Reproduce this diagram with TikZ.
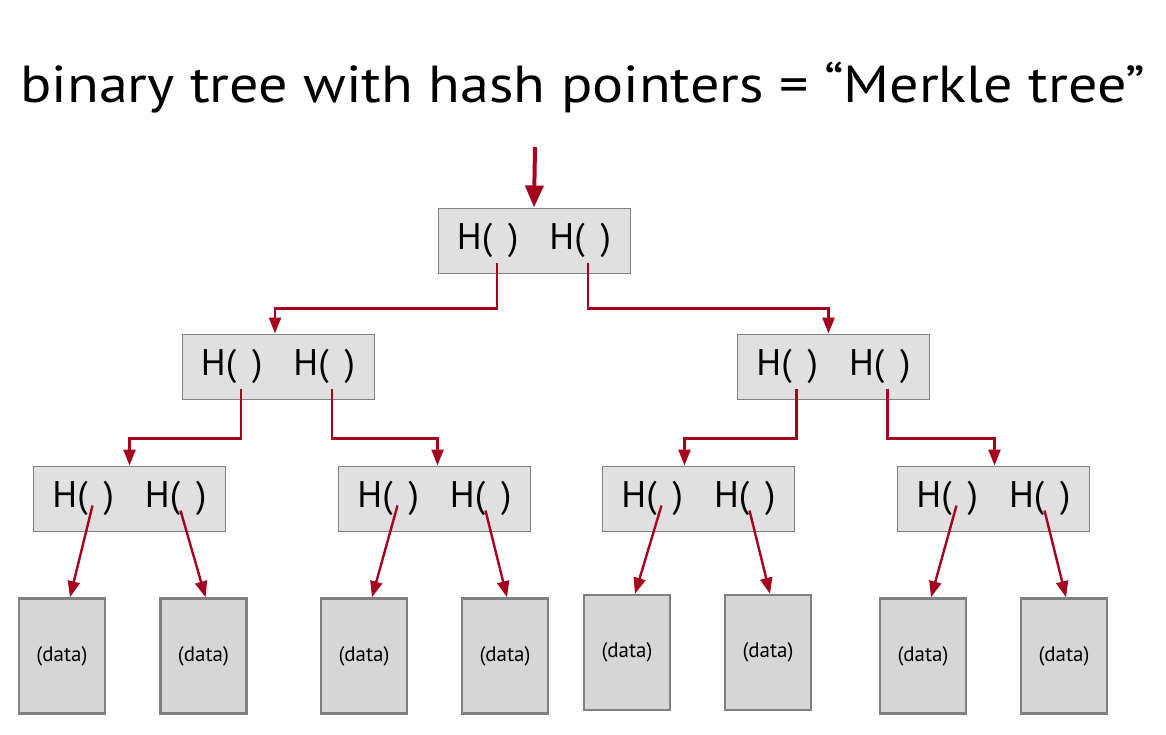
\documentclass[tikz,border=0pt]{standalone}
\usepackage{fontspec}
\setmainfont{PT Sans}
\usetikzlibrary{arrows.meta, calc}
\definecolor{ptrRed}{RGB}{165, 0, 30}
\definecolor{hashGray}{RGB}{224, 224, 224}
\definecolor{dataGray}{RGB}{214, 214, 214}
\definecolor{edgeGray}{RGB}{128, 128, 128}
\newcommand{\hpair}{H(\hspace{16pt})\hspace{31pt}H(\hspace{16pt})\hspace{9pt}}

\begin{document}
\begin{tikzpicture}[
        x=1pt, y=-1pt,
        hsh/.style={rectangle, draw=edgeGray, line width=1pt, fill=hashGray, minimum width=192pt,
            minimum height=65pt, inner sep=0pt, font=\fontsize{37}{44}\selectfont},
        dat/.style={rectangle, draw=edgeGray, line width=2.5pt, fill=dataGray, minimum width=86pt,
            minimum height=115pt, inner sep=0pt, font=\fontsize{21}{25}\selectfont},
        ptr/.style={-{Triangle[length=16pt, width=12pt]}, line width=2.4pt, ptrRed}
    ]
    \useasboundingbox (0,0) rectangle (1166,734);
    \node[anchor=base, font=\fontsize{52}{60}\selectfont] (title) at (583,102)
        {\scalebox{1.117}[1]{binary tree with hash pointers = “Merkle tree”}};

    % hash nodes
    \node[hsh] (h1)  at (534,240.5)   {\hpair};
    \node[hsh] (h2a) at (278,366.5)   {\hpair};
    \node[hsh] (h2b) at (833.5,366.5) {\hpair};
    \node[hsh] (h3a) at (129.5,498.5) {\hpair};
    \node[hsh] (h3b) at (434.5,498.5) {\hpair};
    \node[hsh] (h3c) at (698.5,498.5) {\hpair};
    \node[hsh] (h3d) at (993.5,498.5) {\hpair};

    % data blocks
    \node[dat] (d1) at (62,656)    {(data)};
    \node[dat] (d2) at (203.5,656) {(data)};
    \node[dat] (d3) at (364,656)   {(data)};
    \node[dat] (d4) at (505,656)   {(data)};
    \node[dat] (d5) at (627,652.5) {(data)};
    \node[dat] (d6) at (768,652.5) {(data)};
    \node[dat] (d7) at (923,656)   {(data)};
    \node[dat] (d8) at (1064,656)  {(data)};

    % where the pointers leave the H( )
    \foreach \n in {h1, h2a, h2b} {
        \coordinate (\n-l) at ($(\n)+(-37,22)$);
        \coordinate (\n-r) at ($(\n)+(54,22)$);
    }
    \foreach \n in {h3a, h3b, h3c, h3d} {
        \coordinate (\n-l) at ($(\n)+(-37,7)$);
        \coordinate (\n-r) at ($(\n)+(51,12)$);
    }
    \coordinate (root) at (535,147);

    \draw[ptr, line width=4pt, -{Triangle[length=22pt, width=18pt]}] (root) -- (h1.north);
    \draw[ptr] (h1-l) -- ++(0,46) -| ([xshift=-3pt]h2a.north);
    \draw[ptr] (h1-r) -- ++(0,46) -| ([xshift=-5pt]h2b.north);
    \draw[ptr] (h2a-l) -- ++(0,50) -| (h3a.north);
    \draw[ptr] (h2a-r) -- ++(0,50) -| ([xshift=3pt]h3b.north);
    \draw[ptr] (h2b-l) -- ++(0,50) -| ([xshift=-14pt]h3c.north);
    \draw[ptr] (h2b-r) -- ++(0,50) -| ([xshift=1pt]h3d.north);

    \foreach \h/\a/\b in {h3a/d1/d2, h3b/d3/d4, h3c/d5/d6, h3d/d7/d8} {
        \draw[ptr] (\h-l) -- ([xshift=8pt]\a.north);
        \draw[ptr] (\h-r) -- ([xshift=2pt]\b.north);
    }
\end{tikzpicture}
\end{document}
